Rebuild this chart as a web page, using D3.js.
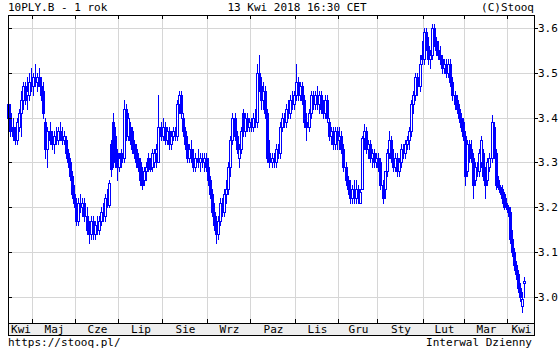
<!DOCTYPE html>
<html>
<head>
<meta charset="utf-8">
<script src="https://cdn.jsdelivr.net/npm/d3@7"></script>
<style>
  html, body { margin: 0; padding: 0; background: #fff; }
  svg text { font-family: 'DejaVu Sans Mono', monospace; font-size: 11px; fill: #000; }
</style>
</head>
<body>
<div id="chart"></div>
<script>
// daily candles [open, high, low, close], one array per month
const apr17 = [[3.43,3.45,3.38,3.40],[3.41,3.43,3.36,3.37],[3.38,3.40,3.35,3.36],[3.37,3.38,3.34,3.35],[3.35,3.40,3.34,3.39],[3.38,3.42,3.37,3.41],[3.41,3.46,3.36,3.44],[3.44,3.48,3.42,3.47],[3.47,3.48,3.43,3.44],[3.45,3.49,3.42,3.46],[3.45,3.50,3.44,3.48],[3.48,3.51,3.46,3.47]]
const may17 = [[3.47,3.50,3.45,3.49],[3.49,3.52,3.47,3.48],[3.48,3.50,3.46,3.49],[3.49,3.51,3.47,3.47],[3.47,3.49,3.44,3.45],[3.46,3.48,3.40,3.41],[3.39,3.40,3.31,3.33],[3.33,3.38,3.29,3.37],[3.37,3.39,3.34,3.35],[3.35,3.37,3.33,3.34],[3.34,3.37,3.32,3.36],[3.36,3.38,3.34,3.35],[3.35,3.38,3.34,3.37],[3.37,3.39,3.35,3.36],[3.36,3.38,3.34,3.35],[3.35,3.37,3.34,3.36],[3.35,3.36,3.31,3.32],[3.32,3.33,3.29,3.30],[3.30,3.31,3.26,3.27],[3.27,3.28,3.22,3.23],[3.23,3.25,3.20,3.21]]
const jun17 = [[3.21,3.22,3.16,3.17],[3.17,3.22,3.16,3.21],[3.21,3.23,3.19,3.20],[3.20,3.22,3.18,3.21],[3.21,3.22,3.17,3.18],[3.18,3.20,3.14,3.15],[3.15,3.17,3.12,3.14],[3.14,3.18,3.13,3.17],[3.17,3.18,3.13,3.14],[3.14,3.17,3.13,3.16],[3.16,3.18,3.14,3.15],[3.15,3.18,3.14,3.17],[3.17,3.20,3.16,3.19],[3.19,3.21,3.17,3.18],[3.18,3.23,3.17,3.22],[3.22,3.24,3.20,3.21],[3.205,3.26,3.20,3.255],[3.34,3.35,3.27,3.285],[3.39,3.41,3.29,3.30],[3.36,3.38,3.29,3.30],[3.32,3.33,3.26,3.29]]
const jul17 = [[3.29,3.32,3.28,3.31],[3.32,3.33,3.29,3.30],[3.31,3.44,3.30,3.42],[3.42,3.43,3.35,3.36],[3.36,3.41,3.35,3.40],[3.38,3.39,3.34,3.35],[3.37,3.38,3.32,3.33],[3.34,3.35,3.31,3.32],[3.33,3.34,3.29,3.30],[3.31,3.32,3.28,3.29],[3.30,3.31,3.25,3.26],[3.28,3.29,3.24,3.25],[3.26,3.29,3.25,3.28],[3.28,3.30,3.26,3.29],[3.31,3.32,3.28,3.29],[3.30,3.31,3.28,3.285],[3.29,3.33,3.28,3.32],[3.30,3.33,3.29,3.32],[3.32,3.34,3.29,3.33],[3.30,3.45,3.30,3.38],[3.38,3.39,3.35,3.36]]
const aug17 = [[3.36,3.40,3.35,3.38],[3.38,3.39,3.34,3.35],[3.35,3.38,3.34,3.37],[3.37,3.38,3.33,3.34],[3.34,3.37,3.33,3.36],[3.36,3.38,3.35,3.37],[3.37,3.38,3.35,3.36],[3.36,3.44,3.35,3.43],[3.43,3.46,3.41,3.45],[3.45,3.46,3.40,3.41],[3.40,3.41,3.36,3.37],[3.37,3.38,3.33,3.34],[3.34,3.36,3.30,3.31],[3.31,3.34,3.30,3.33],[3.33,3.35,3.30,3.31],[3.31,3.33,3.28,3.29],[3.29,3.32,3.28,3.31],[3.31,3.33,3.29,3.30],[3.30,3.32,3.28,3.31],[3.31,3.32,3.29,3.30],[3.30,3.32,3.28,3.31],[3.31,3.32,3.28,3.29]]
const sep17 = [[3.29,3.31,3.25,3.26],[3.26,3.27,3.22,3.23],[3.23,3.24,3.18,3.19],[3.19,3.21,3.15,3.16],[3.16,3.18,3.12,3.14],[3.14,3.18,3.13,3.17],[3.17,3.22,3.16,3.21],[3.21,3.22,3.18,3.19],[3.19,3.24,3.18,3.23],[3.23,3.26,3.21,3.24],[3.24,3.30,3.23,3.29],[3.29,3.36,3.27,3.35],[3.35,3.41,3.34,3.40],[3.40,3.41,3.35,3.36],[3.36,3.37,3.32,3.33],[3.31,3.34,3.29,3.33],[3.33,3.38,3.32,3.37],[3.41,3.42,3.36,3.37],[3.37,3.41,3.36,3.40],[3.40,3.41,3.37,3.38],[3.38,3.40,3.37,3.39]]
const oct17 = [[3.39,3.40,3.37,3.38],[3.38,3.41,3.37,3.40],[3.40,3.42,3.38,3.39],[3.39,3.52,3.38,3.50],[3.50,3.54,3.46,3.47],[3.47,3.49,3.42,3.44],[3.44,3.48,3.42,3.46],[3.46,3.47,3.40,3.41],[3.41,3.42,3.30,3.31],[3.32,3.35,3.29,3.30],[3.30,3.32,3.29,3.31],[3.31,3.32,3.29,3.30],[3.30,3.34,3.29,3.33],[3.33,3.34,3.31,3.32],[3.32,3.39,3.31,3.38],[3.38,3.41,3.37,3.40],[3.40,3.41,3.38,3.39],[3.39,3.43,3.38,3.42],[3.42,3.44,3.40,3.41],[3.41,3.45,3.40,3.44],[3.44,3.46,3.42,3.43],[3.43,3.46,3.42,3.45]]
const nov17 = [[3.45,3.52,3.44,3.48],[3.48,3.49,3.44,3.45],[3.45,3.48,3.44,3.47],[3.47,3.48,3.43,3.44],[3.44,3.45,3.38,3.39],[3.39,3.41,3.35,3.38],[3.38,3.42,3.37,3.41],[3.41,3.46,3.40,3.45],[3.45,3.46,3.42,3.43],[3.43,3.46,3.42,3.45],[3.45,3.47,3.42,3.43],[3.43,3.46,3.41,3.45],[3.45,3.46,3.41,3.42],[3.42,3.44,3.40,3.41],[3.41,3.45,3.40,3.44],[3.44,3.45,3.39,3.40],[3.39,3.40,3.35,3.36],[3.36,3.38,3.34,3.37],[3.37,3.38,3.33,3.34],[3.34,3.38,3.33,3.37],[3.37,3.38,3.33,3.35]]
const dec17 = [[3.35,3.38,3.33,3.36],[3.36,3.37,3.32,3.33],[3.33,3.34,3.28,3.29],[3.29,3.30,3.25,3.26],[3.26,3.27,3.23,3.24],[3.24,3.26,3.21,3.22],[3.22,3.25,3.21,3.24],[3.24,3.26,3.21,3.22],[3.22,3.26,3.21,3.24],[3.24,3.25,3.21,3.22],[3.21,3.24,3.21,3.235],[3.24,3.36,3.24,3.355],[3.355,3.385,3.33,3.37],[3.37,3.38,3.32,3.33],[3.33,3.35,3.31,3.34],[3.34,3.35,3.30,3.31],[3.31,3.33,3.29,3.32],[3.32,3.33,3.29,3.30],[3.30,3.32,3.29,3.31]]
const jan18 = [[3.31,3.32,3.28,3.29],[3.30,3.31,3.24,3.25],[3.25,3.26,3.21,3.22],[3.24,3.28,3.22,3.28],[3.28,3.33,3.27,3.32],[3.32,3.37,3.31,3.35],[3.35,3.36,3.30,3.31],[3.31,3.33,3.28,3.29],[3.29,3.32,3.28,3.31],[3.31,3.32,3.27,3.28],[3.28,3.31,3.27,3.30],[3.30,3.34,3.29,3.33],[3.33,3.34,3.31,3.32],[3.32,3.35,3.31,3.34],[3.34,3.36,3.33,3.35],[3.35,3.38,3.33,3.37],[3.37,3.44,3.36,3.43],[3.43,3.46,3.41,3.45],[3.45,3.50,3.44,3.49],[3.49,3.50,3.45,3.47],[3.47,3.54,3.46,3.52],[3.54,3.57,3.52,3.53]]
const feb18 = [[3.53,3.60,3.52,3.59],[3.59,3.60,3.55,3.56],[3.56,3.58,3.52,3.53],[3.53,3.55,3.51,3.54],[3.54,3.61,3.53,3.60],[3.60,3.61,3.56,3.57],[3.57,3.58,3.54,3.55],[3.55,3.57,3.53,3.54],[3.54,3.56,3.52,3.53],[3.53,3.54,3.50,3.51],[3.51,3.53,3.50,3.52],[3.52,3.53,3.49,3.50],[3.50,3.53,3.49,3.52],[3.52,3.53,3.47,3.48],[3.48,3.49,3.44,3.45],[3.45,3.46,3.42,3.43],[3.44,3.45,3.41,3.42],[3.42,3.43,3.39,3.40],[3.40,3.41,3.37,3.38],[3.39,3.40,3.35,3.36]]
const mar18 = [[3.36,3.37,3.25,3.27],[3.28,3.35,3.27,3.34],[3.34,3.35,3.30,3.31],[3.33,3.35,3.30,3.31],[3.31,3.32,3.22,3.25],[3.26,3.30,3.25,3.29],[3.29,3.30,3.27,3.28],[3.28,3.33,3.27,3.32],[3.30,3.36,3.29,3.35],[3.32,3.33,3.26,3.27],[3.28,3.29,3.22,3.25],[3.26,3.31,3.25,3.30],[3.29,3.32,3.28,3.31],[3.31,3.405,3.30,3.39],[3.38,3.39,3.31,3.32],[3.32,3.33,3.24,3.25],[3.26,3.27,3.24,3.245],[3.245,3.25,3.23,3.235],[3.24,3.25,3.21,3.22],[3.23,3.235,3.195,3.20],[3.21,3.22,3.195,3.20]]
const apr18 = [[3.20,3.205,3.18,3.19],[3.19,3.20,3.12,3.13],[3.13,3.15,3.09,3.10],[3.10,3.11,3.06,3.07],[3.07,3.08,3.04,3.05],[3.05,3.06,3.01,3.02],[3.02,3.03,2.99,3.00],[2.98,3.01,2.965,2.995],[3.03,3.045,3.00,3.035]]

const monthLabels = ['Kwi', 'Maj', 'Cze', 'Lip', 'Sie', 'Wrz', 'Paz', 'Lis', 'Gru', 'Sty', 'Lut', 'Mar', 'Kwi']
const monthBars = [apr17, may17, jun17, jul17, aug17, sep17, oct17, nov17, dec17, jan18, feb18, mar18, apr18]
const yTicks = [3.0, 3.1, 3.2, 3.3, 3.4, 3.5, 3.6]

const title = '10PLY.B - 1 rok'
const stamp = '13 Kwi 2018 16:30 CET'

const canvasWidth = 560
const canvasHeight = 350
const plot = {left: 8, right: 534, top: 15, bottom: 323}
const bandBottom = 335
const color = '#0000ff'

// flatten months into one index-based series
const candles = []
const monthStarts = []
monthBars.forEach(m => {
  monthStarts.push(candles.length)
  m.forEach(([o, h, l, c]) => candles.push({o, h, l, c, i: candles.length}))
})

const xScale = d3.scaleLinear()
  .domain([0, candles.length - 1])
  .range([8.4, 524.4])

const yScale = d3.scaleLinear()
  .domain([3.0, 3.6])
  .range([296.8, 28])

const svg = d3.select('#chart')
  .append('svg')
  .attr('width', canvasWidth)
  .attr('height', canvasHeight)
  .attr('shape-rendering', 'crispEdges')

// label band under the plot
svg.append('rect')
  .attr('x', plot.left).attr('y', plot.bottom)
  .attr('width', plot.right - plot.left).attr('height', bandBottom - plot.bottom)
  .attr('fill', '#eeeeee')

// month boundaries
const bounds = monthStarts.slice(1).map(i => Math.round(xScale(i - 0.5)))
const grid = svg.append('g').attr('stroke', '#d6d6d6')
bounds.forEach(x => {
  grid.append('line').attr('x1', x + 0.5).attr('x2', x + 0.5)
    .attr('y1', plot.top).attr('y2', plot.bottom)
})
yTicks.forEach(v => {
  const y = Math.round(yScale(v)) + 0.5
  grid.append('line').attr('x1', plot.left).attr('x2', plot.right)
    .attr('y1', y).attr('y2', y)
})

// candles
const cg = svg.append('g')
candles.forEach(d => {
  const x = Math.round(xScale(d.i))
  const yo = Math.round(yScale(d.o))
  const yc = Math.round(yScale(d.c))
  cg.append('line')
    .attr('x1', x + 0.5).attr('x2', x + 0.5)
    .attr('y1', Math.round(yScale(d.h))).attr('y2', Math.round(yScale(d.l)) + 1)
    .attr('stroke', color)
  const top = Math.min(yo, yc)
  const h = Math.max(1, Math.abs(yo - yc))
  if (d.c > d.o) {
    cg.append('rect')
      .attr('x', x - 0.5).attr('y', top + 0.5)
      .attr('width', 2).attr('height', h)
      .attr('fill', '#fff').attr('stroke', color)
  } else {
    cg.append('rect')
      .attr('x', x - 1).attr('y', top)
      .attr('width', 3).attr('height', h + 1)
      .attr('fill', color)
  }
})

// frame and ticks
const frame = svg.append('g').attr('stroke', '#000')
frame.append('rect')
  .attr('x', plot.left + 0.5).attr('y', plot.top + 0.5)
  .attr('width', plot.right - plot.left).attr('height', bandBottom - plot.top)
  .attr('fill', 'none')
frame.append('line').attr('x1', plot.left).attr('x2', plot.right)
  .attr('y1', plot.bottom + 0.5).attr('y2', plot.bottom + 0.5)
bounds.forEach(x => {
  frame.append('line').attr('x1', x + 0.5).attr('x2', x + 0.5)
    .attr('y1', plot.bottom - 4).attr('y2', plot.bottom)
  frame.append('line').attr('x1', x + 0.5).attr('x2', x + 0.5)
    .attr('y1', plot.top).attr('y2', plot.top + 4)
})
yTicks.forEach(v => {
  const y = Math.round(yScale(v)) + 0.5
  frame.append('line').attr('x1', plot.left).attr('x2', plot.left + 4).attr('y1', y).attr('y2', y)
  frame.append('line').attr('x1', plot.right).attr('x2', plot.right + 4).attr('y1', y).attr('y2', y)
})

// y labels on the right
svg.append('g')
  .selectAll('text')
  .data(yTicks)
  .enter()
  .append('text')
  .attr('x', 538)
  .attr('y', d => Math.round(yScale(d)) + 4)
  .text(d => d.toFixed(1))

// month labels in the band
const edges = [plot.left, ...bounds, plot.right]
svg.append('g')
  .selectAll('text')
  .data(monthLabels)
  .enter()
  .append('text')
  .attr('x', (d, i) => (edges[i] + edges[i + 1]) / 2 + 1)
  .attr('y', 333)
  .style('text-anchor', 'middle')
  .text(d => d)

// header and footer
svg.append('text').attr('x', 8).attr('y', 11).text(title)
svg.append('text').attr('x', 297).attr('y', 11).style('text-anchor', 'middle').text(stamp)
svg.append('text').attr('x', 534).attr('y', 11).style('text-anchor', 'end').text('(C)Stooq')
svg.append('text').attr('x', 8).attr('y', 346).text('https://stooq.pl/')
svg.append('text').attr('x', 532).attr('y', 346).style('text-anchor', 'end').text('Interwal Dzienny')
</script>
</body>
</html>
